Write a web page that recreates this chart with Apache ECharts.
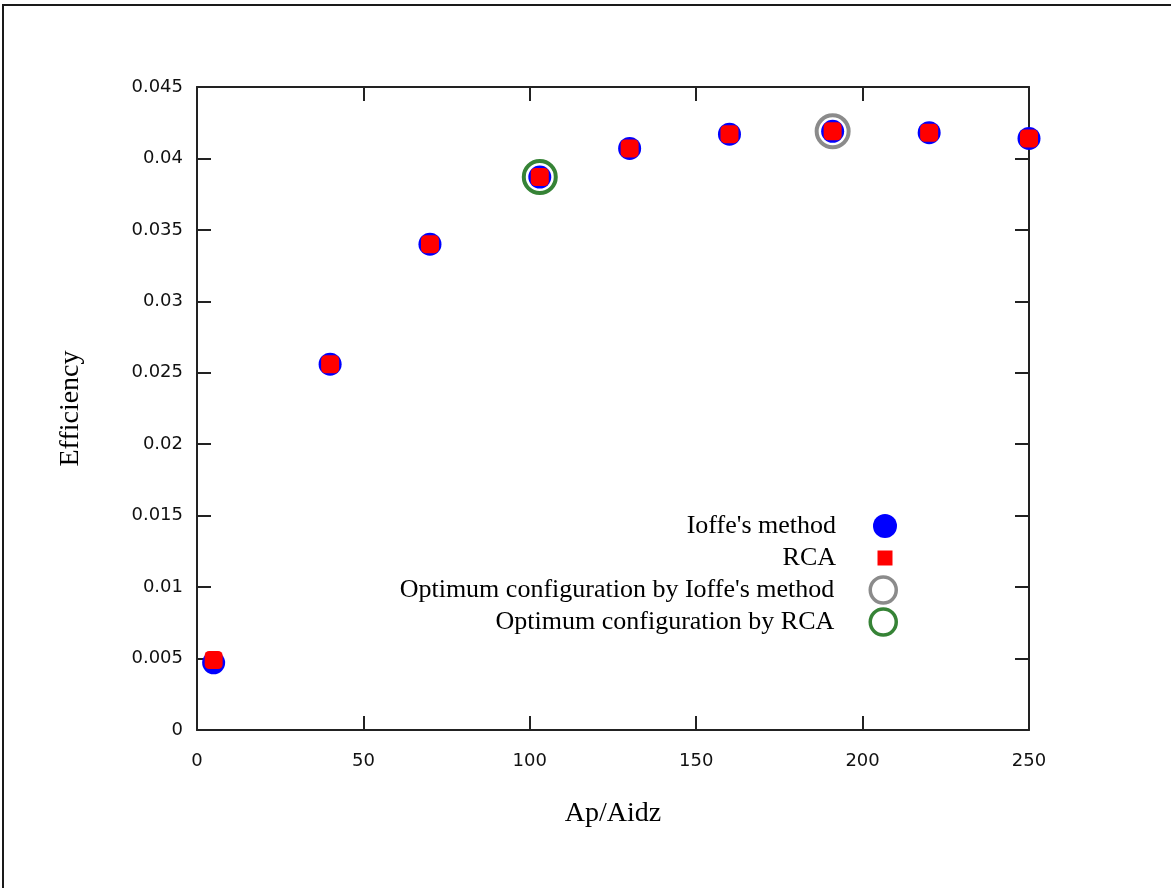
<!DOCTYPE html>
<html>
<head>
<meta charset="utf-8">
<script src="https://cdn.jsdelivr.net/npm/echarts@6/dist/echarts.min.js"></script>
<style>
  html, body { margin: 0; padding: 0; background: #fff; }
  #chart { width: 1171px; height: 888px; }
</style>
</head>
<body>
<div id="chart"></div>
<script>
// Aperture ratio (Ap/Aidz) of each configuration
const ratios = [5, 40, 70, 103, 130, 160, 191, 220, 250];
// Efficiency computed by Ioffe's method
const ioffeEff = [0.0047, 0.0256, 0.0340, 0.0387, 0.0407, 0.0417, 0.0419, 0.0418, 0.0414];
// Efficiency computed by RCA
const rcaEff = [0.0049, 0.0256, 0.0340, 0.0387, 0.0407, 0.0417, 0.0419, 0.0418, 0.0414];
// Optimum configurations [ratio, efficiency]
const ioffeOptimum = [[191, 0.0419]];
const rcaOptimum = [[103, 0.0387]];

const seriesNames = [
  "Ioffe's method",
  'RCA',
  "Optimum configuration by Ioffe's method",
  'Optimum configuration by RCA'
];

const xTicks = { min: 0, max: 250, interval: 50 };
const yTicks = { min: 0, max: 0.045, interval: 0.005 };

const axisColor = '#222';
const sansFont = 'DejaVu Sans';
const serifFont = 'Liberation Serif';
const grayRing = '#6e6e6e';
const greenRing = '#046404';

const pairs = (xs, ys) => xs.map((x, i) => [x, ys[i]]);

const chart = echarts.init(document.getElementById('chart'), null, { renderer: 'canvas' });

const baseAxis = {
  axisLine: { show: true, onZero: false, lineStyle: { color: axisColor, width: 2 } },
  axisTick: { show: true, inside: true, length: 14, lineStyle: { color: axisColor, width: 2 } },
  splitLine: { show: false }
};

// One legend per entry so each icon keeps its own size
const legendRows = [526, 558, 590, 622];
const iconCenterX = 885;
const textRight = 836;
const legendIcons = [
  { size: 24, icon: 'circle', itemStyle: { color: '#0000ff', borderWidth: 0 } },
  { size: 15, icon: 'rect', itemStyle: { color: '#ff0000', borderWidth: 0 } },
  { size: 26, icon: 'circle', itemStyle: { color: 'rgba(0,0,0,0)', borderColor: grayRing, borderWidth: 3.5 } },
  { size: 26, icon: 'circle', itemStyle: { color: 'rgba(0,0,0,0)', borderColor: greenRing, borderWidth: 3.5 } }
];
const lineH = 30;
const legends = seriesNames.map((name, i) => {
  const ic = legendIcons[i];
  return {
    data: [{ name: name, icon: ic.icon }],
    orient: 'vertical',
    align: 'right',
    selectedMode: false,
    padding: 0,
    itemWidth: ic.size,
    itemHeight: ic.size,
    right: 1171 - (iconCenterX + ic.size / 2),
    top: legendRows[i] - lineH / 2,
    itemStyle: ic.itemStyle,
    textStyle: {
      fontFamily: serifFont,
      fontSize: 26,
      color: '#000',
      lineHeight: lineH,
      padding: [0, iconCenterX - ic.size / 2 - 5 - textRight, 0, 0]
    }
  };
});

const option = {
  backgroundColor: '#ffffff',
  animation: false,
  graphic: [{
    type: 'rect',
    shape: { x: 3, y: 5, width: 1220, height: 940 },
    style: { fill: 'none', stroke: '#1a1a1a', lineWidth: 2 },
    silent: true
  }],
  grid: { left: 197, right: 142, top: 87, bottom: 158, containLabel: false },
  legend: legends,
  xAxis: [
    Object.assign({}, baseAxis, {
      type: 'value', position: 'bottom',
      min: xTicks.min, max: xTicks.max, interval: xTicks.interval,
      name: 'Ap/Aidz', nameLocation: 'middle', nameGap: 70,
      nameTextStyle: { fontFamily: serifFont, fontSize: 28, color: '#000' },
      axisLabel: { margin: 22, fontFamily: sansFont, fontSize: 18, color: '#111' }
    }),
    Object.assign({}, baseAxis, {
      type: 'value', position: 'top',
      min: xTicks.min, max: xTicks.max, interval: xTicks.interval,
      axisLabel: { show: false }
    })
  ],
  yAxis: [
    Object.assign({}, baseAxis, {
      type: 'value', position: 'left',
      min: yTicks.min, max: yTicks.max, interval: yTicks.interval,
      name: 'Efficiency', nameLocation: 'middle', nameGap: 112,
      nameTextStyle: { fontFamily: serifFont, fontSize: 28, color: '#000' },
      axisLabel: {
        margin: 14, fontFamily: sansFont, fontSize: 18, color: '#111',
        formatter: v => String(parseFloat(v.toFixed(4)))
      }
    }),
    Object.assign({}, baseAxis, {
      type: 'value', position: 'right',
      min: yTicks.min, max: yTicks.max, interval: yTicks.interval,
      axisLabel: { show: false }
    })
  ],
  series: [
    {
      name: seriesNames[2], type: 'scatter', xAxisIndex: 0, yAxisIndex: 0,
      data: ioffeOptimum, symbol: 'circle', symbolSize: 32, z: 2,
      itemStyle: { color: 'rgba(0,0,0,0)', borderColor: grayRing, borderWidth: 4 }
    },
    {
      name: seriesNames[3], type: 'scatter', xAxisIndex: 0, yAxisIndex: 0,
      data: rcaOptimum, symbol: 'circle', symbolSize: 32, z: 2,
      itemStyle: { color: 'rgba(0,0,0,0)', borderColor: greenRing, borderWidth: 4 }
    },
    {
      name: seriesNames[0], type: 'scatter', xAxisIndex: 0, yAxisIndex: 0,
      data: pairs(ratios, ioffeEff), symbol: 'circle', symbolSize: 23, z: 3,
      itemStyle: { color: '#0000ff', opacity: 1 }
    },
    {
      name: seriesNames[1], type: 'scatter', xAxisIndex: 0, yAxisIndex: 0,
      data: pairs(ratios, rcaEff), symbol: 'roundRect', symbolSize: 18, z: 4,
      itemStyle: { color: '#ff0000', opacity: 1 }
    }
  ]
};

chart.setOption(option);
</script>
</body>
</html>
